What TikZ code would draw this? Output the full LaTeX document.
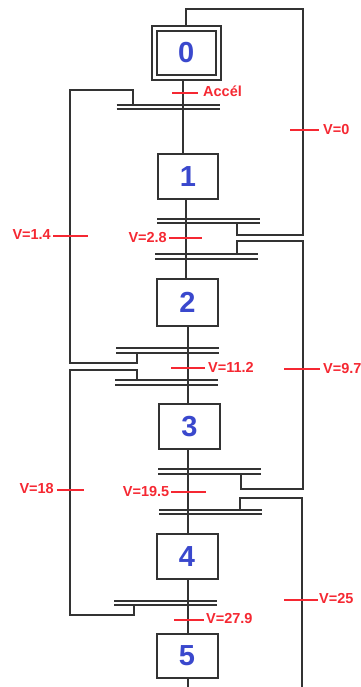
\documentclass[tikz,border=0pt]{standalone}
\usepackage{fontspec}
\setmainfont{Liberation Sans}
\definecolor{stepblue}{RGB}{58,72,205}
\definecolor{tickred}{RGB}{245,40,50}
\tikzset{
  stepbox/.style={draw=black!80, line width=2pt, fill=white, inner sep=0pt, text=stepblue, font=\bfseries\fontsize{29}{29}\selectfont},
  barbox/.style={minimum width=103pt, minimum height=4.4pt, inner sep=0pt, outer sep=0pt},
  barline/.style={draw=black!80, line width=2pt},
  link/.style={draw=black!80, line width=2pt},
  tick/.style={draw=tickred, line width=2pt},
  vlabel/.style={text=tickred, inner sep=0pt, font=\bfseries\fontsize{14.5}{15}\selectfont},
}
\begin{document}
\begin{tikzpicture}[x=1pt, y=-1pt]
  \useasboundingbox (0,0) rectangle (360,687);
  % free corners of the loops
  \coordinate (topL) at (185.5,9);
  \coordinate (topR) at (303,9);
  \coordinate (r1b) at (303,235);
  \coordinate (r2a) at (236.5,240.5);
  \coordinate (r2b) at (303,240.5);
  \coordinate (r2c) at (303,489);
  \coordinate (r3a) at (240,497.5);
  \coordinate (r3b) at (302,497.5);
  \coordinate (r3c) at (302,687);
  \coordinate (l1a) at (69.5,90);
  \coordinate (l1b) at (69.5,363);
  \coordinate (l2a) at (69.5,370);
  \coordinate (l2b) at (69.5,615);
  \coordinate (v5end) at (187.5,687);
  % steps
  \node [stepbox, minimum width=68.5pt, minimum height=54pt] (s0) at (186.25,53) {};
  \node [stepbox, minimum width=58.5pt, minimum height=44pt] (s0in) at (186.25,53) {0};
  \node [stepbox, minimum width=60pt, minimum height=45pt] (s1) at (188,176.5) {1};
  \node [stepbox, minimum width=61pt, minimum height=47pt] (s2) at (187.5,302.5) {2};
  \node [stepbox, minimum width=61pt, minimum height=45.5pt] (s3) at (189.5,426.25) {3};
  \node [stepbox, minimum width=61pt, minimum height=45pt] (s4) at (187,556.5) {4};
  \node [stepbox, minimum width=61pt, minimum height=44.5pt] (s5) at (187,655.75) {5};
  % transitions
  \node [barbox] (t0) at (168,107.2) {};
  \node [barbox] (t1a) at (208.5,221) {};
  \node [barbox] (t1b) at (206.5,256.4) {};
  \node [barbox] (t2a) at (167.5,350.5) {};
  \node [barbox] (t2b) at (166.5,382.4) {};
  \node [barbox] (t3a) at (209.5,471.5) {};
  \node [barbox] (t3b) at (210.5,511.9) {};
  \node [barbox] (t4) at (165.5,602.9) {};
  \draw [barline] (t0.north west) -- (t0.north east);
  \draw [barline] (t0.south west) -- (t0.south east);
  \draw [barline] (t1a.north west) -- (t1a.north east);
  \draw [barline] (t1a.south west) -- (t1a.south east);
  \draw [barline] (t1b.north west) -- (t1b.north east);
  \draw [barline] (t1b.south west) -- (t1b.south east);
  \draw [barline] (t2a.north west) -- (t2a.north east);
  \draw [barline] (t2a.south west) -- (t2a.south east);
  \draw [barline] (t2b.north west) -- (t2b.north east);
  \draw [barline] (t2b.south west) -- (t2b.south east);
  \draw [barline] (t3a.north west) -- (t3a.north east);
  \draw [barline] (t3a.south west) -- (t3a.south east);
  \draw [barline] (t3b.north west) -- (t3b.north east);
  \draw [barline] (t3b.south west) -- (t3b.south east);
  \draw [barline] (t4.north west) -- (t4.north east);
  \draw [barline] (t4.south west) -- (t4.south east);
  % main line
  \draw [link] (s0.south -| 183.3,0) -- (s1.north -| 183.3,0);
  \draw [link] (s1.south -| 186,0) -- (s2.north -| 186,0);
  \draw [link] (s2.south -| 187.5,0) -- (s3.north -| 187.5,0);
  \draw [link] (s3.south -| 187.5,0) -- (s4.north -| 187.5,0);
  \draw [link] (s4.south -| 187.5,0) -- (s5.north -| 187.5,0);
  \draw [link] (s5.south -| v5end) -- (v5end);
  % loops
  \draw [link] (s0.north -| topL) -- (topL) -- (topR) -- (r1b) -| (t1a.south -| 237,0);
  \draw [link] (t1b.north -| r2a) -- (r2a) -- (r2b) -- (r2c) -| (t3a.south -| 240.5,0);
  \draw [link] (t3b.north -| r3a) -- (r3a) -- (r3b) -- (r3c);
  \draw [link] (t0.north -| 133,0) |- (l1a) -- (l1b) -| (t2a.south -| 136.5,0);
  \draw [link] (t2b.north -| 136.5,0) |- (l2a) -- (l2b) -| (t4.south -| 133.5,0);
  % receptivities
  \node [vlabel, anchor=west] (lAccel) at (203,91) {Accél};
  \node [vlabel, anchor=west] (lV0) at (323,130) {V=0};
  \node [vlabel, anchor=east] (lV14) at (51,235) {V=1.4};
  \node [vlabel, anchor=east] (lV28) at (167,238) {V=2.8};
  \node [vlabel, anchor=west] (lV112) at (208,367.5) {V=11.2};
  \node [vlabel, anchor=west] (lV97) at (323,368.5) {V=9.7};
  \node [vlabel, anchor=east] (lV18) at (54,489) {V=18};
  \node [vlabel, anchor=east] (lV195) at (169.5,492) {V=19.5};
  \node [vlabel, anchor=west] (lV25) at (319,598.5) {V=25};
  \node [vlabel, anchor=west] (lV279) at (206,619) {V=27.9};
  \draw [tick] (lAccel.west |- 0,93.5) ++(-31,0) -- ++(26,0);
  \draw [tick] (lV0.west) ++(-33,0) -- ++(29,0);
  \draw [tick] (lV14.east) ++(2,1) -- ++(35,0);
  \draw [tick] (lV28.east) ++(2,0) -- ++(33,0);
  \draw [tick] (lV112.west) ++(-37,0) -- ++(34,0);
  \draw [tick] (lV97.west) ++(-39,0) -- ++(36,0);
  \draw [tick] (lV18.east) ++(3,0.5) -- ++(27,0);
  \draw [tick] (lV195.east) ++(1.5,0) -- ++(35,0);
  \draw [tick] (lV25.west) ++(-35,1.5) -- ++(34,0);
  \draw [tick] (lV279.west) ++(-32,1) -- ++(30,0);
\end{tikzpicture}
\end{document}
